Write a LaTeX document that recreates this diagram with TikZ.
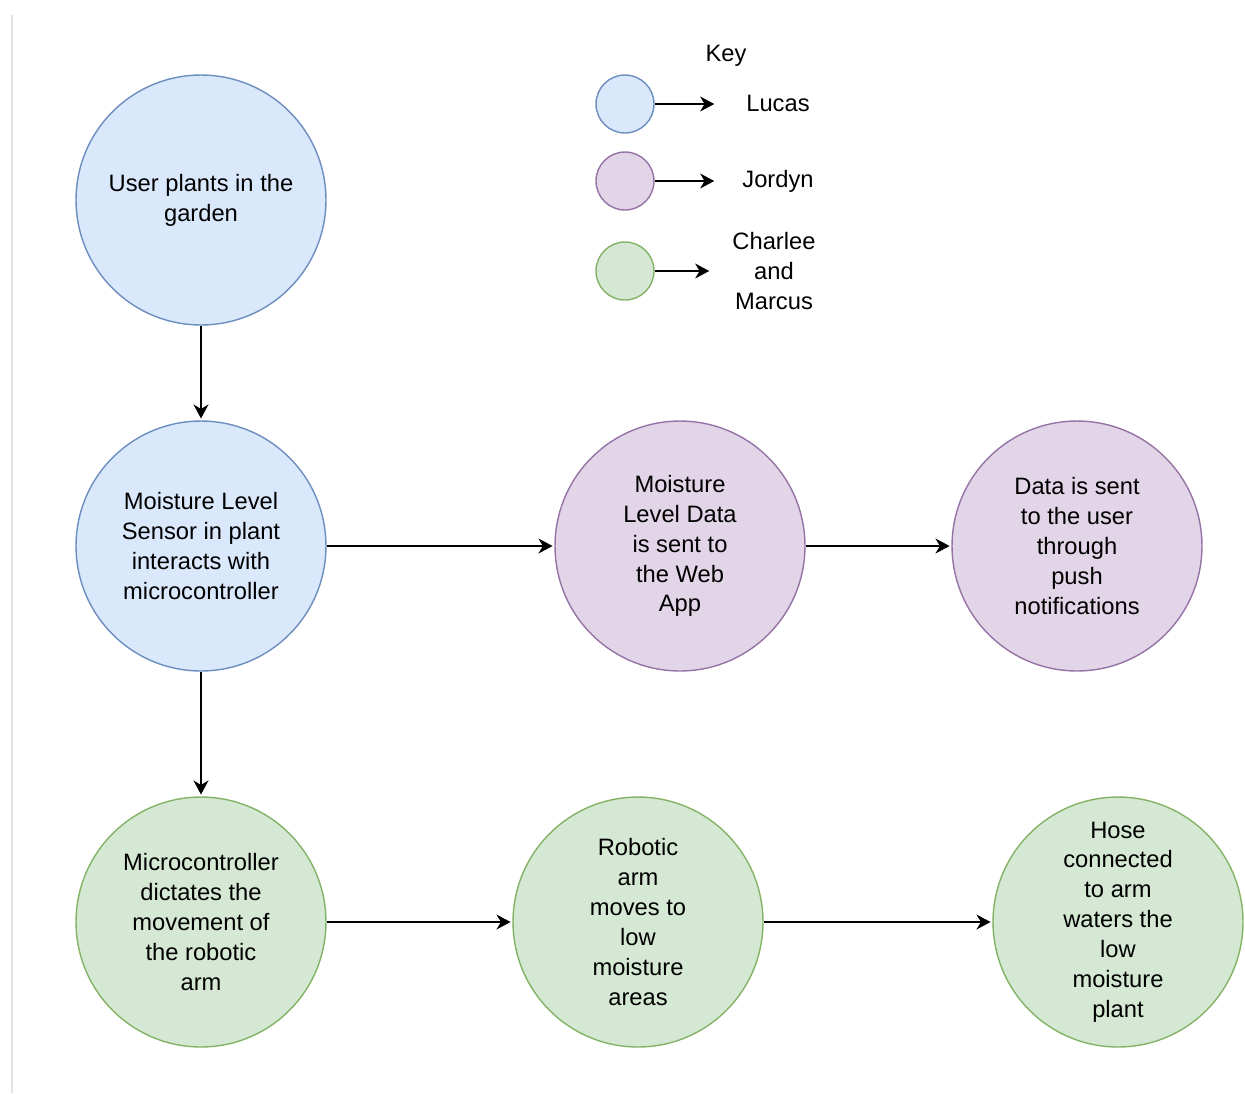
\documentclass[tikz,border=0pt]{standalone}
\usepackage{fontspec}
\setmainfont{Liberation Sans}
\usetikzlibrary{positioning, arrows.meta}
\definecolor{LucasFill}{RGB}{218, 232, 252}
\definecolor{LucasLine}{RGB}{108, 142, 191}
\definecolor{JordynFill}{RGB}{225, 213, 231}
\definecolor{JordynLine}{RGB}{150, 115, 166}
\definecolor{TeamFill}{RGB}{213, 232, 212}
\definecolor{TeamLine}{RGB}{130, 179, 102}
\definecolor{EdgeGray}{RGB}{226, 226, 226}

\begin{document}
\begin{tikzpicture}[x=0.02cm, y=-0.02cm,
    stage/.style={circle, draw, line width=0.8pt, minimum size=5cm, inner sep=0pt, align=center, font=\fontsize{13.5}{17}\selectfont},
    keydot/.style={circle, draw, line width=0.8pt, minimum size=1.16cm, inner sep=0pt},
    lucas/.style={fill=LucasFill, draw=LucasLine},
    jordyn/.style={fill=JordynFill, draw=JordynLine},
    team/.style={fill=TeamFill, draw=TeamLine},
    keytext/.style={align=center, font=\fontsize{13.5}{17}\selectfont},
    flow/.style={-{Stealth[length=8pt, width=8.5pt, inset=2.5pt]}, line width=1pt, shorten >=1pt}]
    \useasboundingbox (0,0) rectangle (1245,1093);
    \draw[EdgeGray, line width=0.06cm] (12,15) -- (12,1093);

    % Key
    \node[keytext] (keyTitle) at (726,56) {Key};
    \node[keydot, lucas] (keyLucas) at (625,104) {};
    \node[keydot, jordyn] (keyJordyn) at (625,181) {};
    \node[keydot, team] (keyTeam) at (625,271) {};
    \coordinate (lucasTip) at (716,104);
    \coordinate (jordynTip) at (716,181);
    \coordinate (teamTip) at (711,271);
    \draw[flow] (keyLucas) -- (lucasTip);
    \draw[flow] (keyJordyn) -- (jordynTip);
    \draw[flow] (keyTeam) -- (teamTip);
    \node[keytext] (lucasName) at (778,103) {Lucas};
    \node[keytext] (jordynName) at (778,181) {Jordyn};
    \node[keytext] (teamName) at (774,271) {Charlee\\and\\Marcus};

    % Stages
    \node[stage, lucas] (plants) at (201,200) {User plants in the\\garden};
    \node[stage, lucas] (sensor) at (201,546) {Moisture Level\\Sensor in plant\\interacts with\\microcontroller};
    \node[stage, jordyn] (webapp) at (680,546) {Moisture\\Level Data\\is sent to\\the Web\\App};
    \node[stage, jordyn] (notify) at (1077,546) {Data is sent\\to the user\\through\\push\\notifications};
    \node[stage, team] (control) at (201,922) {Microcontroller\\dictates the\\movement of\\the robotic\\arm};
    \node[stage, team] (robot) at (638,922) {Robotic\\arm\\moves to\\low\\moisture\\areas};
    \node[stage, team] (hose) at (1118,922) {Hose\\connected\\to arm\\waters the\\low\\moisture\\plant};

    % Flow
    \draw[flow] (plants) -- (sensor);
    \draw[flow] (sensor) -- (webapp);
    \draw[flow] (webapp) -- (notify);
    \draw[flow] (sensor) -- (control);
    \draw[flow] (control) -- (robot);
    \draw[flow] (robot) -- (hose);
\end{tikzpicture}
\end{document}
